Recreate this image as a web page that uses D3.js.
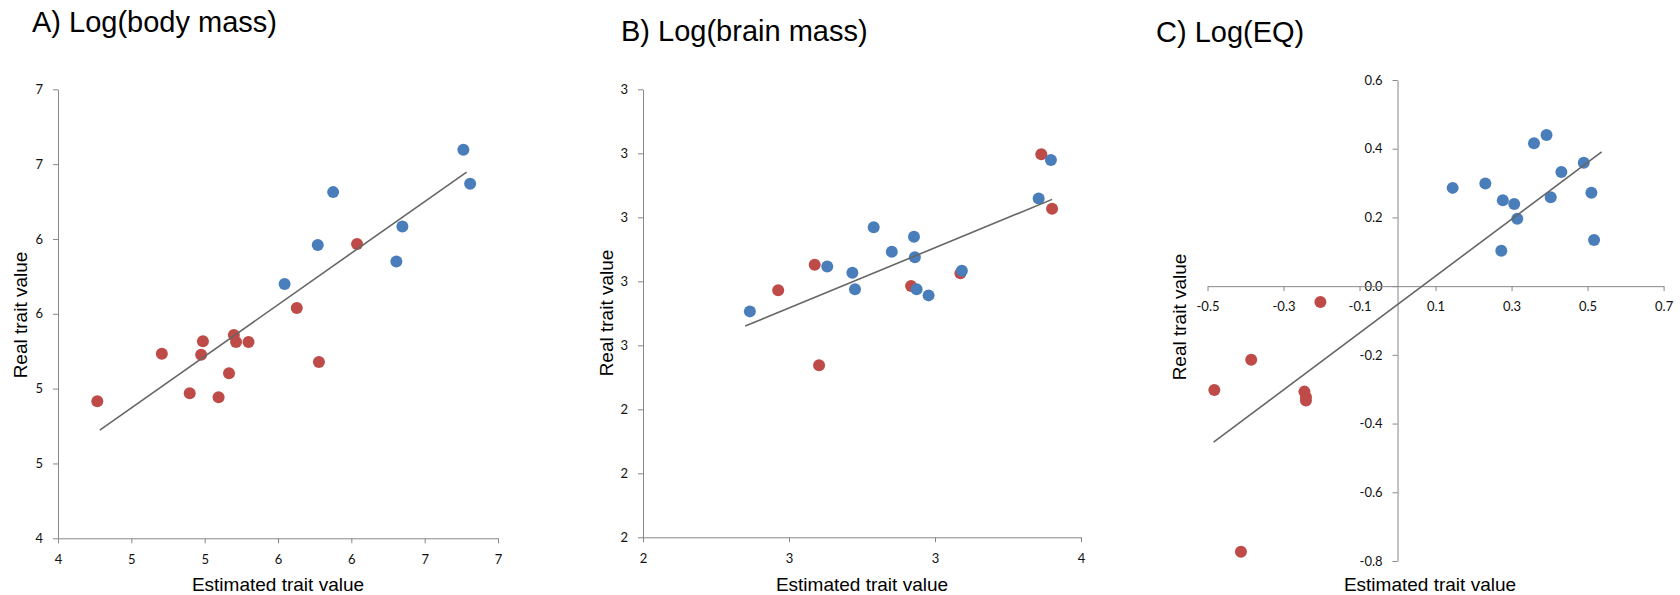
<!DOCTYPE html>
<html>
<head>
<meta charset="utf-8">
<script src="https://cdn.jsdelivr.net/npm/d3@7"></script>
<style>
  html, body { margin: 0; padding: 0; background: #fff; }
  svg { display: block; }
  .tick text { font-family: "Lato", "Open Sans", sans-serif; font-size: 13px; fill: #111; }
  .title { font-family: "Liberation Sans", Arial, sans-serif; font-size: 29px; fill: #000; }
  .axis-title { font-family: "Liberation Sans", Arial, sans-serif; font-size: 19px; fill: #000; }
</style>
</head>
<body>
<svg id="chart" width="1680" height="595"></svg>
<script>
// Panel A: log body mass, estimated vs real
const bodyBlueEst  = [6.764, 6.810, 5.876, 6.348, 5.771, 6.307, 5.545];
const bodyBlueReal = [6.596, 6.369, 6.313, 6.084, 5.959, 5.850, 5.699];
const bodyRedEst   = [6.039, 5.628, 5.199, 5.214, 5.299, 4.988, 4.708, 4.976, 5.779, 5.166, 4.898, 5.095, 4.268];
const bodyRedReal  = [5.966, 5.538, 5.358, 5.311, 5.311, 5.316, 5.233, 5.226, 5.178, 5.102, 4.969, 4.942, 4.915];
const bodyTrendEst  = [4.285, 6.786];
const bodyTrendReal = [4.723, 6.447];
const bodyXTicks = [4, 4.5, 5, 5.5, 6, 6.5, 7];
const bodyXTickLabels = ["4", "5", "5", "6", "6", "7", "7"];
const bodyYTicks = [4, 4.5, 5, 5.5, 6, 6.5, 7];
const bodyYTickLabels = ["4", "5", "5", "6", "6", "7", "7"];

// Panel B: log brain mass
const brainBlueEst  = [3.397, 3.355, 2.790, 2.928, 2.852, 2.931, 2.631, 2.717, 3.092, 2.726, 2.937, 2.978, 2.366];
const brainBlueReal = [3.179, 3.059, 2.969, 2.939, 2.892, 2.875, 2.846, 2.827, 2.833, 2.775, 2.775, 2.756, 2.706];
const brainRedEst   = [3.364, 3.401, 2.588, 3.087, 2.463, 2.918, 2.603];
const brainRedReal  = [3.197, 3.027, 2.852, 2.825, 2.772, 2.785, 2.5375];
const brainTrendEst  = [2.350, 3.401];
const brainTrendReal = [2.660, 3.056];
const brainXTicks = [2, 2.5, 3, 3.5];
const brainXTickLabels = ["2", "3", "3", "4"];
const brainYTicks = [2.0, 2.2, 2.4, 2.6, 2.8, 3.0, 3.2, 3.4];
const brainYTickLabels = ["2", "2", "2", "3", "3", "3", "3", "3"];

// Panel C: log encephalization quotient
const eqBlueEst  = [0.145, 0.231, 0.277, 0.307, 0.315, 0.273, 0.359, 0.392, 0.431, 0.403, 0.490, 0.510, 0.517];
const eqBlueReal = [0.286, 0.299, 0.250, 0.239, 0.196, 0.103, 0.416, 0.440, 0.332, 0.259, 0.359, 0.272, 0.134];
const eqRedEst   = [-0.203, -0.385, -0.482, -0.245, -0.241, -0.241, -0.412];
const eqRedReal  = [-0.046, -0.214, -0.302, -0.307, -0.323, -0.333, -0.773];
const eqTrendEst  = [-0.484, 0.537];
const eqTrendReal = [-0.454, 0.391];
const eqXTicks = [-0.5, -0.3, -0.1, 0.1, 0.3, 0.5, 0.7];
const eqXTickLabels = ["-0.5", "-0.3", "-0.1", "0.1", "0.3", "0.5", "0.7"];
const eqYTicks = [-0.8, -0.6, -0.4, -0.2, 0.0, 0.2, 0.4, 0.6];
const eqYTickLabels = ["-0.8", "-0.6", "-0.4", "-0.2", "0.0", "0.2", "0.4", "0.6"];

const titles = ["A) Log(body mass)", "B) Log(brain mass)", "C) Log(EQ)"];
const xTitle = "Estimated trait value";
const yTitle = "Real trait value";

const BLUE = "#4a7ebb";
const RED = "#be4b48";
const AXIS = "#888888";
const TREND = "#666666";

const svg = d3.select("#chart");

const zip = (xs, ys) => xs.map((x, i) => ({ x, y: ys[i] }));

const panels = [
  {
    title: titles[0], titlePos: [32, 32],
    x: d3.scaleLinear().domain([4, 7]).range([58, 498]),
    y: d3.scaleLinear().domain([4, 7]).range([538.3, 89.3]),
    xTicks: bodyXTicks, xLabels: bodyXTickLabels, yTicks: bodyYTicks, yLabels: bodyYTickLabels,
    xAxisAt: 4, yAxisAt: 4,
    blue: zip(bodyBlueEst, bodyBlueReal), red: zip(bodyRedEst, bodyRedReal),
    trend: zip(bodyTrendEst, bodyTrendReal),
    xTitlePos: [278, 591], yTitlePos: [27, 315]
  },
  {
    title: titles[1], titlePos: [621, 41],
    x: d3.scaleLinear().domain([2, 3.5]).range([643, 1081]),
    y: d3.scaleLinear().domain([2, 3.4]).range([537.3, 89.3]),
    xTicks: brainXTicks, xLabels: brainXTickLabels, yTicks: brainYTicks, yLabels: brainYTickLabels,
    xAxisAt: 2, yAxisAt: 2,
    blue: zip(brainBlueEst, brainBlueReal), red: zip(brainRedEst, brainRedReal),
    trend: zip(brainTrendEst, brainTrendReal),
    xTitlePos: [862, 591], yTitlePos: [613, 313]
  },
  {
    title: titles[2], titlePos: [1156, 42],
    x: d3.scaleLinear().domain([-0.5, 0.7]).range([1207.5, 1663.6]),
    y: d3.scaleLinear().domain([-0.8, 0.6]).range([561, 80]),
    xTicks: eqXTicks, xLabels: eqXTickLabels, yTicks: eqYTicks, yLabels: eqYTickLabels,
    xAxisAt: 0, yAxisAt: 0,
    blue: zip(eqBlueEst, eqBlueReal), red: zip(eqRedEst, eqRedReal),
    trend: zip(eqTrendEst, eqTrendReal),
    xTitlePos: [1430, 591], yTitlePos: [1186, 317]
  }
];

function styleAxis(g) {
  g.select(".domain").attr("stroke", AXIS).attr("stroke-width", 1);
  g.selectAll(".tick line").attr("stroke", AXIS).attr("stroke-width", 1);
}

panels.forEach(p => {
  const g = svg.append("g");

  // y axis first so the x axis line lies over the "0.0" label in panel C
  const yAxis = d3.axisLeft(p.y)
    .tickValues(p.yTicks)
    .tickFormat((d, i) => p.yLabels[i])
    .tickSizeOuter(0).tickSizeInner(5).tickPadding(10);
  g.append("g")
    .attr("transform", `translate(${p.x(p.yAxisAt)},0)`)
    .call(yAxis).call(styleAxis);

  const xAxis = d3.axisBottom(p.x)
    .tickValues(p.xTicks)
    .tickFormat((d, i) => p.xLabels[i])
    .tickSizeOuter(0).tickSizeInner(5).tickPadding(11);
  g.append("g")
    .attr("transform", `translate(0,${p.y(p.xAxisAt)})`)
    .call(xAxis).call(styleAxis);

  // points: red group under blue group
  g.append("g").selectAll("circle").data(p.red).join("circle")
    .attr("cx", d => p.x(d.x)).attr("cy", d => p.y(d.y)).attr("r", 6)
    .attr("fill", RED);
  g.append("g").selectAll("circle").data(p.blue).join("circle")
    .attr("cx", d => p.x(d.x)).attr("cy", d => p.y(d.y)).attr("r", 6)
    .attr("fill", BLUE);

  // linear trend line
  g.append("path")
    .datum(p.trend)
    .attr("d", d3.line().x(d => p.x(d.x)).y(d => p.y(d.y)))
    .attr("fill", "none")
    .attr("stroke", TREND).attr("stroke-width", 1.6);

  // titles
  g.append("text").attr("class", "title")
    .attr("x", p.titlePos[0]).attr("y", p.titlePos[1]).text(p.title);
  g.append("text").attr("class", "axis-title")
    .attr("x", p.xTitlePos[0]).attr("y", p.xTitlePos[1])
    .attr("text-anchor", "middle").text(xTitle);
  g.append("text").attr("class", "axis-title")
    .attr("transform", `translate(${p.yTitlePos[0]},${p.yTitlePos[1]}) rotate(-90)`)
    .attr("text-anchor", "middle").text(yTitle);
});
</script>
</body>
</html>
